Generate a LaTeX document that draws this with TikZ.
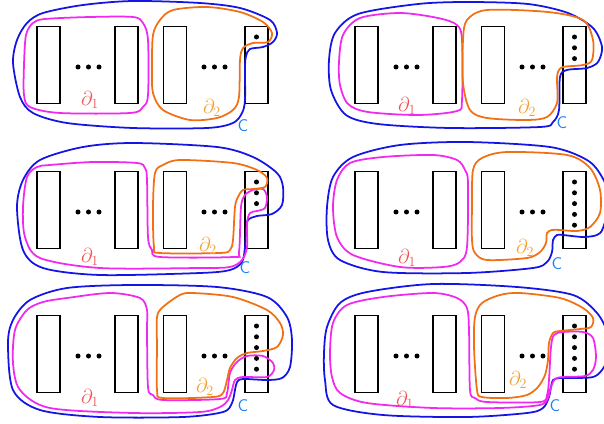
\documentclass[tikz,border=0pt]{standalone}
\usepackage{amssymb}

\definecolor{loopmagenta}{RGB}{240,40,240}
\definecolor{looporange}{RGB}{242,112,20}
\definecolor{loopblue}{RGB}{20,20,228}
\definecolor{labred}{RGB}{240,85,85}
\definecolor{laborange}{RGB}{242,160,50}
\definecolor{labblue}{RGB}{30,130,240}

\tikzstyle{cell} = [draw,line width=1.2pt,minimum width=0.69cm,minimum height=2.3cm,inner sep=0pt]
\tikzstyle{loopone} = [draw=loopmagenta,line width=1.5pt]
\tikzstyle{looptwo} = [draw=looporange,line width=1.5pt]
\tikzstyle{loopc} = [draw=loopblue,line width=1.5pt]
\tikzstyle{labone} = [text=labred,font=\LARGE,inner sep=0pt]
\tikzstyle{labtwo} = [text=laborange,font=\LARGE,inner sep=0pt]
\tikzstyle{labc} = [text=labblue,font=\Large\sffamily,inner sep=0pt]

\begin{document}
\begin{tikzpicture}[x=0.03cm,y=-0.03cm]
  \useasboundingbox (0,0) rectangle (604,424);

  %% boxes and dots of every panel
  \foreach \p/\xo/\yo/\n in {1/0/0/1, 2/318/0/3, 3/0/145/3,
    4/318/145/5, 5/0/289/5, 6/318/289/5}
  {
    \begin{scope}[shift={(\xo,\yo)}]
      \foreach \b/\x in {a/48.5, b/126.5, c/175, d/256.5}
        \node[cell] (cell\p\b) at (\x,65) {};
      \foreach \x in {78,88.5,99,204,214.5,225}
        \fill (\x,67) circle (0.075cm);
      \foreach \k in {1,...,\n}
        \fill (256.5,{37+10.8*(\k-1)}) circle (0.075cm);
    \end{scope}
  }

  %% panel 1
  \draw[loopc] plot[smooth cycle] coordinates {(13,63) (17,40) (27,23) (43,13) (83,5) (133,1) (200,3) (240,8) (270,20) (277,33) (273,42) (263,47) (250,49) (246,56) (245,67) (245,100) (242,113) (233,123) (207,128) (133,128) (67,123) (33,113) (20,97)};
  \draw[loopone] plot[smooth cycle] coordinates {(24,65) (26,35) (33,23) (45,19) (90,17) (133,17) (143,23) (148,40) (148,95) (143,107) (130,113) (60,113) (30,107) (24,95)};
  \draw[looptwo] plot[smooth cycle] coordinates {(152,67) (153,35) (160,20) (173,10) (207,7) (240,12) (263,22) (272,33) (268,42) (253,43) (243,48) (240,60) (239,97) (233,110) (217,118) (190,120) (163,110) (153,93)};

  %% panel 2
  \begin{scope}[shift={(318,0)}]
    \draw[loopc] plot[smooth cycle] coordinates {(11,60) (17,33) (40,14) (100,4) (150,2) (210,4) (250,13) (275,28) (284,47) (280,62) (269,68) (249,70) (242,77) (241,110) (235,122) (222,127) (132,128) (60,124) (28,115) (13,90)};
    \draw[loopone] plot[smooth cycle] coordinates {(21,62) (25,35) (42,18) (82,13) (120,18) (139,25) (144,40) (144,100) (139,111) (100,115) (50,112) (30,104) (22,85)};
    \draw[looptwo] plot[smooth cycle] coordinates {(145,83) (145,40) (149,20) (169,10) (230,12) (265,20) (275,40) (274,60) (265,65) (245,67) (240,72) (239,80) (239,103) (229,117) (209,120) (169,118) (152,110)};
  \end{scope}

  %% panel 3
  \begin{scope}[shift={(0,145)}]
    \draw[loopc] plot[smooth cycle] coordinates {(17,62) (23,35) (40,15) (83,2) (133,-2) (217,2) (253,12) (277,28) (283,42) (282,60) (272,69) (257,71) (248,75) (246,85) (245,102) (242,117) (230,125) (200,128) (100,130) (43,123) (23,105)};
    \draw[loopone] plot[smooth cycle] coordinates {(23,62) (27,32) (37,22) (50,20) (93,17) (137,18) (145,23) (147,35) (148,92) (152,105) (160,112) (233,112) (239,107) (241,62) (245,50) (253,45) (263,44) (267,52) (265,63) (257,66) (250,68) (247,78) (247,102) (242,115) (230,122) (200,123) (100,123) (40,113) (25,92)};
    \draw[looptwo] plot[smooth cycle] coordinates {(153,62) (155,28) (163,20) (180,15) (233,18) (257,25) (267,33) (265,42) (253,44) (243,45) (238,52) (235,62) (233,95) (230,105) (220,108) (160,108) (154,102)};
  \end{scope}

  %% panel 4
  \begin{scope}[shift={(318,145)}]
    \draw[loopc] plot[smooth cycle] coordinates {(9,62) (15,32) (35,12) (82,0) (149,-3) (232,2) (269,15) (284,32) (292,55) (285,83) (279,90) (265,92) (245,90) (239,90) (235,95) (234,107) (229,117) (215,123) (149,128) (65,127) (22,115) (10,95)};
    \draw[loopone] plot[smooth cycle] coordinates {(15,62) (19,35) (32,18) (65,12) (115,10) (139,15) (147,25) (150,38) (149,102) (142,117) (125,122) (82,122) (35,110) (19,92)};
    \draw[looptwo] plot[smooth cycle] coordinates {(154,60) (155,25) (164,13) (189,7) (249,10) (272,23) (282,45) (282,68) (272,82) (259,86) (242,85) (234,85) (229,88) (228,98) (222,107) (209,113) (169,115) (157,108) (154,95)};
  \end{scope}

  %% panel 5
  \begin{scope}[shift={(0,289)}]
    \draw[loopc] plot[smooth cycle] coordinates {(8,54) (13,31) (30,11) (67,-1) (133,-4) (217,-2) (267,8) (287,28) (292,51) (290,78) (282,89) (267,91) (243,90) (237,93) (235,101) (232,114) (223,123) (183,128) (100,128) (40,121) (13,101)};
    \draw[loopone] plot[smooth cycle] coordinates {(13,74) (15,41) (27,21) (43,13) (67,9) (110,4) (140,9) (147,21) (147,41) (148,98) (153,106) (163,111) (220,110) (227,104) (230,84) (237,73) (247,67) (263,67) (273,74) (274,81) (267,88) (243,88) (235,91) (232,101) (228,111) (220,118) (200,123) (133,124) (50,119) (20,101)};
    \draw[looptwo] plot[smooth cycle] coordinates {(157,58) (157,28) (163,18) (180,6) (193,4) (233,8) (267,21) (280,34) (283,46) (277,58) (263,62) (247,64) (237,69) (230,79) (227,91) (223,104) (213,108) (163,109) (157,101)};
  \end{scope}

  %% panel 6
  \begin{scope}[shift={(318,289)}]
    \draw[loopc] plot[smooth cycle] coordinates {(6,64) (9,38) (22,14) (49,3) (115,-5) (199,-2) (255,6) (279,24) (290,45) (292,65) (284,81) (275,88) (255,89) (242,89) (235,91) (233,98) (231,108) (225,119) (209,124) (149,128) (65,126) (15,116) (7,91)};
    \draw[loopone] plot[smooth cycle] coordinates {(12,64) (15,34) (29,16) (65,8) (115,4) (139,9) (149,19) (151,41) (152,101) (157,109) (169,113) (222,113) (229,106) (231,91) (233,58) (236,46) (245,43) (265,43) (275,49) (278,68) (275,81) (267,87) (245,88) (237,90) (233,98) (230,109) (222,116) (182,119) (115,119) (49,114) (22,104) (14,88)};
    \draw[looptwo] plot[smooth cycle] coordinates {(156,58) (157,28) (164,14) (182,6) (202,4) (242,9) (265,19) (275,29) (273,38) (262,40) (242,42) (235,44) (231,54) (230,71) (227,86) (220,98) (209,106) (189,109) (164,108) (159,101)};
  \end{scope}

  %% labels
  \foreach \p/\xo/\yo/\ax/\ay/\bx/\by/\cx/\cy in {
    1/0/0/90/100/212/108/243/126, 2/318/0/89/106/209/108/244/123,
    3/0/145/90/112/208/101/245/123, 4/318/145/89/113/207/103/239/119,
    5/0/289/90/109/205/98/243/117, 6/318/289/87/111/200/91/237/117}
  {
    \begin{scope}[shift={(\xo,\yo)}]
      \node[labone] (done\p) at (\ax,\ay) {$\partial_1$};
      \node[labtwo] (dtwo\p) at (\bx,\by) {$\partial_2$};
      \node[labc] (cname\p) at (\cx,\cy) {C};
    \end{scope}
  }
\end{tikzpicture}
\end{document}
